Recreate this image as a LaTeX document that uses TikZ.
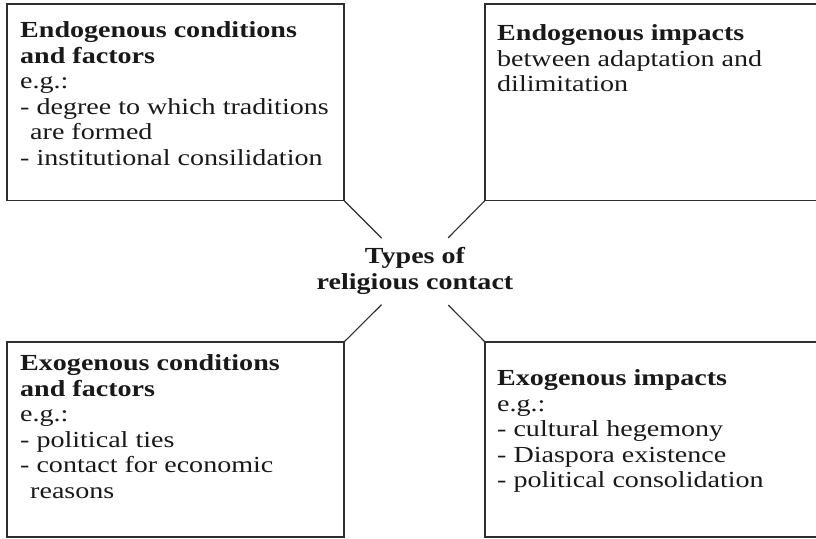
\documentclass[tikz,border=0pt]{standalone}
\usepackage{fontspec}
\setmainfont[FakeStretch=1.22]{Liberation Serif}
\begin{document}
\begin{tikzpicture}[x=1pt,y=-1pt,
  frame/.style={draw=black!82,line width=1.3pt},
  link/.style={draw=black!82,line width=1.1pt},
  boxtext/.style={anchor=north west,align=left,inner sep=0pt,text=black!90,
    font=\fontsize{23}{25.5}\selectfont},
  hubtext/.style={align=center,inner sep=0pt,text=black!90,
    font=\fontsize{23}{26}\selectfont\bfseries}]
\useasboundingbox (0,0) rectangle (816,538);
\clip (0,0) rectangle (816,538);

% four corner boxes (right-hand ones run off the page)
\path[frame] (7,4) rectangle (344,200.5);
\path[frame] (485,4) rectangle (830,200.5);
\path[frame] (7,342) rectangle (344,537);
\path[frame] (485,342) rectangle (830,537);
\coordinate (tl) at (344,200.5);
\coordinate (tr) at (485,200.5);
\coordinate (bl) at (344,342);
\coordinate (br) at (485,342);

% central topic
\node[circle,minimum size=94pt,inner sep=0pt] (hub) at (415,271.5) {};
\node[hubtext] (title) at (415,271) {Types of\\religious contact};

\draw[link] (tl) -- (hub);
\draw[link] (tr) -- (hub);
\draw[link] (bl) -- (hub);
\draw[link] (br) -- (hub);

% box contents
\node[boxtext] (endcond) at (20,21.5) {\textbf{Endogenous conditions}\\
  \textbf{and factors}\\
  e.g.:\\
  - degree to which traditions\\
  \hspace*{10pt}are formed\\
  - institutional consilidation};
\node[boxtext] (endimp) at (497,24.5) {\textbf{Endogenous impacts}\\
  between adaptation and\\
  dilimitation};
\node[boxtext] (exocond) at (20,354.5) {\textbf{Exogenous conditions}\\
  \textbf{and factors}\\
  e.g.:\\
  - political ties\\
  - contact for economic\\
  \hspace*{10pt}reasons};
\node[boxtext] (exoimp) at (497,369.5) {\textbf{Exogenous impacts}\\
  e.g.:\\
  - cultural hegemony\\
  - Diaspora existence\\
  - political consolidation};
\end{tikzpicture}
\end{document}
